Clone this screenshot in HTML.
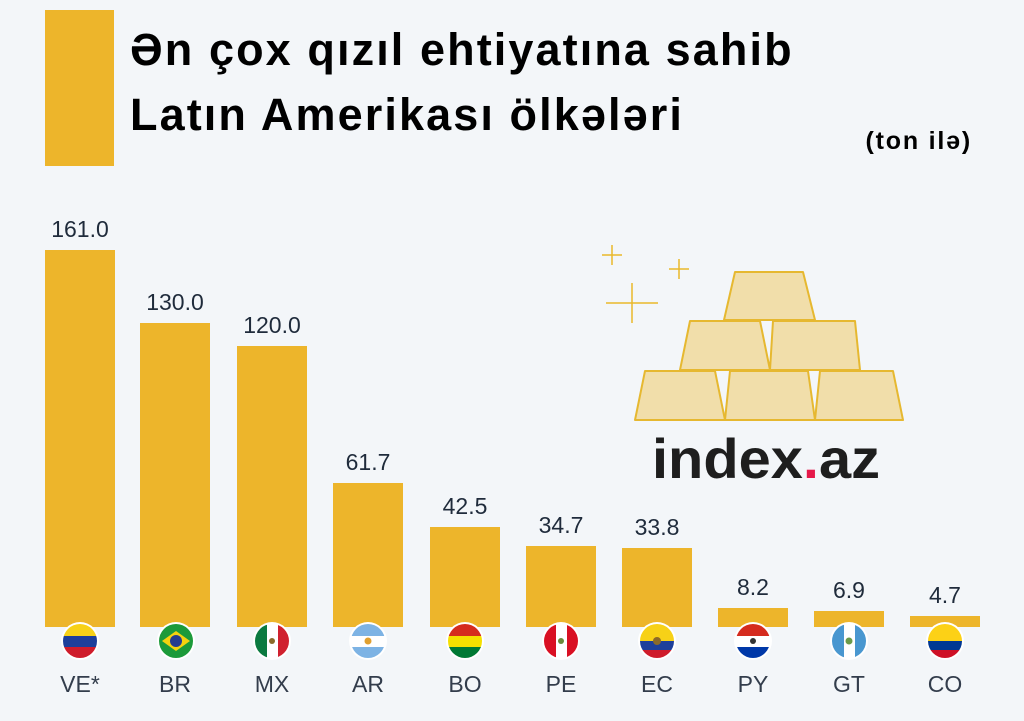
<!DOCTYPE html>
<html><head><meta charset="utf-8"><style>
html,body{margin:0;padding:0;}
body{width:1024px;height:721px;background:#f3f6f9;position:relative;overflow:hidden;font-family:"Liberation Sans","DejaVu Sans",sans-serif;}
.t{position:absolute;left:130px;font-weight:bold;font-size:45px;letter-spacing:2.1px;color:#000;white-space:nowrap;}
.bar{position:absolute;background:#edb52b;width:70px;}
.v{position:absolute;width:100px;text-align:center;font-size:23px;color:#1f2b3b;}
.l{position:absolute;width:100px;text-align:center;font-size:23px;color:#333d4c;top:671px;}
</style></head><body>
<div style="position:absolute;left:45px;top:10px;width:69px;height:156px;background:#edb52b"></div>
<div class="t" style="top:24px">Ən çox qızıl ehtiyatına sahib</div>
<div class="t" style="top:89px">Latın Amerikası ölkələri</div>
<div style="position:absolute;right:52px;top:127px;font-weight:bold;font-size:25px;letter-spacing:1.8px">(ton ilə)</div>

<div class="bar" style="left:45px;top:250px;height:377px"></div>
<div class="bar" style="left:140px;top:323px;height:304px"></div>
<div class="bar" style="left:237px;top:346px;height:281px"></div>
<div class="bar" style="left:333px;top:483px;height:144px"></div>
<div class="bar" style="left:430px;top:527px;height:100px"></div>
<div class="bar" style="left:526px;top:546px;height:81px"></div>
<div class="bar" style="left:622px;top:548px;height:79px"></div>
<div class="bar" style="left:718px;top:608px;height:19px"></div>
<div class="bar" style="left:814px;top:611px;height:16px"></div>
<div class="bar" style="left:910px;top:616px;height:11px"></div>

<div class="v" style="left:30px;top:216px">161.0</div>
<div class="v" style="left:125px;top:289px">130.0</div>
<div class="v" style="left:222px;top:312px">120.0</div>
<div class="v" style="left:318px;top:449px">61.7</div>
<div class="v" style="left:415px;top:493px">42.5</div>
<div class="v" style="left:511px;top:512px">34.7</div>
<div class="v" style="left:607px;top:514px">33.8</div>
<div class="v" style="left:703px;top:574px">8.2</div>
<div class="v" style="left:799px;top:577px">6.9</div>
<div class="v" style="left:895px;top:582px">4.7</div>

<svg style="position:absolute;left:0;top:0" width="1024" height="721">
<defs>
<clipPath id="c"><circle r="17"/></clipPath>
</defs>
<g transform="translate(80,641)"><circle r="19" fill="#fff"/><g clip-path="url(#c)"><rect x="-17" y="-17" width="34" height="12" fill="#f7d117"/><rect x="-17" y="-5" width="34" height="11" fill="#1d3f9b"/><rect x="-17" y="6" width="34" height="12" fill="#cf1c2b"/></g></g>
<g transform="translate(176,641)"><circle r="19" fill="#fff"/><g clip-path="url(#c)"><rect x="-17" y="-17" width="34" height="34" fill="#1c9a3a"/><polygon points="-14,0 0,-10 14,0 0,10" fill="#f5d20f"/><circle r="6" fill="#243c8f"/></g></g>
<g transform="translate(272,641)"><circle r="19" fill="#fff"/><g clip-path="url(#c)"><rect x="-17" y="-17" width="12" height="34" fill="#0b7a40"/><rect x="6" y="-17" width="12" height="34" fill="#d0212f"/><circle r="3" fill="#8a6a2a"/></g></g>
<g transform="translate(368,641)"><circle r="19" fill="#fff"/><g clip-path="url(#c)"><rect x="-17" y="-17" width="34" height="12" fill="#7db3e4"/><rect x="-17" y="6" width="34" height="12" fill="#7db3e4"/><circle r="3.5" fill="#e0a030"/></g></g>
<g transform="translate(465,641)"><circle r="19" fill="#fff"/><g clip-path="url(#c)"><rect x="-17" y="-17" width="34" height="12" fill="#d52b1e"/><rect x="-17" y="-5" width="34" height="11" fill="#f5e000"/><rect x="-17" y="6" width="34" height="12" fill="#007934"/></g></g>
<g transform="translate(561,641)"><circle r="19" fill="#fff"/><g clip-path="url(#c)"><rect x="-17" y="-17" width="12" height="34" fill="#d91023"/><rect x="6" y="-17" width="12" height="34" fill="#d91023"/><circle r="3" fill="#6a8a3a"/></g></g>
<g transform="translate(657,641)"><circle r="19" fill="#fff"/><g clip-path="url(#c)"><rect x="-17" y="-17" width="34" height="17" fill="#f7d117"/><rect x="-17" y="0" width="34" height="9" fill="#1d3f9b"/><rect x="-17" y="9" width="34" height="9" fill="#cf1c2b"/><circle r="4" fill="#8a6a2a"/></g></g>
<g transform="translate(753,641)"><circle r="19" fill="#fff"/><g clip-path="url(#c)"><rect x="-17" y="-17" width="34" height="12" fill="#d52b1e"/><rect x="-17" y="6" width="34" height="12" fill="#0038a8"/><circle r="3" fill="#333"/></g></g>
<g transform="translate(849,641)"><circle r="19" fill="#fff"/><g clip-path="url(#c)"><rect x="-17" y="-17" width="12" height="34" fill="#4997d0"/><rect x="6" y="-17" width="12" height="34" fill="#4997d0"/><circle r="3.5" fill="#6a9a4a"/></g></g>
<g transform="translate(945,641)"><circle r="19" fill="#fff"/><g clip-path="url(#c)"><rect x="-17" y="-17" width="34" height="17" fill="#fcd116"/><rect x="-17" y="0" width="34" height="9" fill="#003893"/><rect x="-17" y="9" width="34" height="9" fill="#ce1126"/></g></g>

<g stroke="#e9b82b" stroke-width="1.5" fill="none">
<path d="M612,245V265M602,255H622"/><path d="M679,259V279M669,269H689"/><path d="M632,283V323M606,303H658"/>
</g>
<g fill="#f1deaa" stroke="#e6b830" stroke-width="2" stroke-linejoin="round">
<polygon points="735,272 803,272 815,320 724,320"/>
<polygon points="690,321 760,321 770,370 680,370"/>
<polygon points="773,321 855,321 860,370 770,370"/>
<polygon points="645,371 715,371 725,420 635,420"/>
<polygon points="730,371 808,371 815,420 725,420"/>
<polygon points="820,371 893,371 903,420 815,420"/>
</g>
<text x="652" y="478" font-family="Liberation Sans, sans-serif" font-weight="bold" font-size="56" fill="#1e1e1e" textLength="228" lengthAdjust="spacingAndGlyphs">index<tspan fill="#e5194a">.</tspan>az</text>
</svg>

<div class="l" style="left:30px">VE*</div>
<div class="l" style="left:125px">BR</div>
<div class="l" style="left:222px">MX</div>
<div class="l" style="left:318px">AR</div>
<div class="l" style="left:415px">BO</div>
<div class="l" style="left:511px">PE</div>
<div class="l" style="left:607px">EC</div>
<div class="l" style="left:703px">PY</div>
<div class="l" style="left:799px">GT</div>
<div class="l" style="left:895px">CO</div>
</body></html>
